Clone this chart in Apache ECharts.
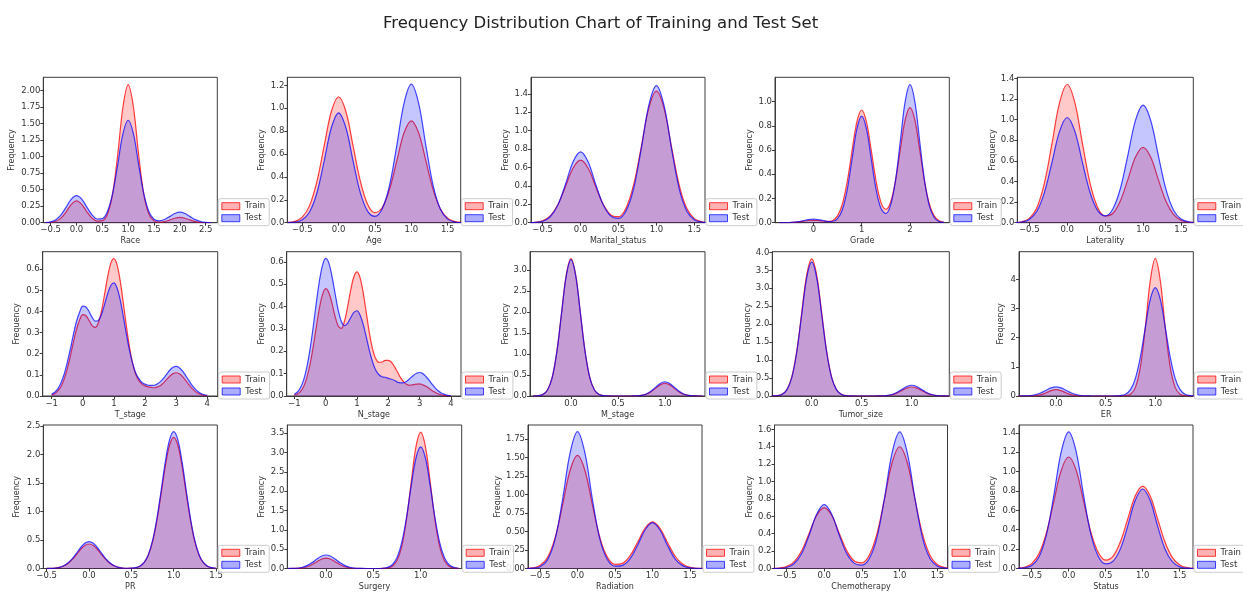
<!DOCTYPE html>
<html>
<head>
<meta charset="utf-8">
<script src="https://cdn.jsdelivr.net/npm/echarts@6/dist/echarts.min.js"></script>
<style>
  html, body { margin: 0; padding: 0; background: #fff; }
  #chart { width: 1243px; height: 592px; }
</style>
</head>
<body>
<div id="chart"></div>
<script>
// ---------------- DATA ----------------
const chartTitle = 'Frequency Distribution Chart of Training and Test Set';
const seriesNames = ['Train', 'Test'];
const featureNames = ['Race', 'Age', 'Marital_status', 'Grade', 'Laterality',
  'T_stage', 'N_stage', 'M_stage', 'Tumor_size', 'ER',
  'PR', 'Surgery', 'Radiation', 'Chemotherapy', 'Status'];

// sample x positions of the density curves
const raceX = [-0.6,-0.5,-0.4,-0.3,-0.2,-0.1,0,0.1,0.2,0.3,0.4,0.5,0.6,0.7,0.8,0.9,1,1.1,1.2,1.3,1.4,1.5,1.6,1.7,1.8,1.9,2,2.1,2.2,2.3,2.4,2.5,2.6];
const binX = [-0.7,-0.6,-0.5,-0.4,-0.3,-0.2,-0.1,0,0.1,0.2,0.3,0.4,0.5,0.6,0.7,0.8,0.9,1,1.1,1.2,1.3,1.4,1.5,1.6,1.7];
const gradeX = [-0.7,-0.6,-0.5,-0.4,-0.3,-0.2,-0.1,0,0.1,0.2,0.3,0.4,0.5,0.6,0.7,0.8,0.9,1,1.1,1.2,1.3,1.4,1.5,1.6,1.7,1.8,1.9,2,2.1,2.2,2.3,2.4,2.5,2.6,2.7];
const stageX = [-1,-0.9,-0.8,-0.7,-0.6,-0.5,-0.4,-0.3,-0.2,-0.1,0,0.1,0.2,0.3,0.4,0.5,0.6,0.7,0.8,0.9,1,1.1,1.2,1.3,1.4,1.5,1.6,1.7,1.8,1.9,2,2.1,2.2,2.3,2.4,2.5,2.6,2.7,2.8,2.9,3,3.1,3.2,3.3,3.4,3.5,3.6,3.7,3.8,3.9,4];
const fineX = [-0.4,-0.35,-0.3,-0.25,-0.2,-0.15,-0.1,-0.05,0,0.05,0.1,0.15,0.2,0.25,0.3,0.35,0.4,0.45,0.5,0.55,0.6,0.65,0.7,0.75,0.8,0.85,0.9,0.95,1,1.05,1.1,1.15,1.2,1.25,1.3,1.35,1.4];
const prX = [-0.5,-0.45,-0.4,-0.35,-0.3,-0.25,-0.2,-0.15,-0.1,-0.05,0,0.05,0.1,0.15,0.2,0.25,0.3,0.35,0.4,0.45,0.5,0.55,0.6,0.65,0.7,0.75,0.8,0.85,0.9,0.95,1,1.05,1.1,1.15,1.2,1.25,1.3,1.35,1.4,1.45,1.5];

// density values (Train / Test)
const raceTrain = [0.001,0.004,0.021,0.070,0.165,0.278,0.330,0.278,0.165,0.070,0.025,0.031,0.132,0.441,1.047,1.758,2.090,1.758,1.047,0.441,0.132,0.028,0.009,0.017,0.040,0.067,0.080,0.067,0.040,0.017,0.005,0.001,0.000];
const raceTest  = [0.003,0.013,0.045,0.118,0.236,0.357,0.410,0.357,0.236,0.120,0.056,0.061,0.172,0.446,0.891,1.350,1.550,1.350,0.891,0.446,0.170,0.053,0.028,0.048,0.092,0.139,0.160,0.139,0.092,0.046,0.017,0.005,0.001];
const ageTrain = [0.002,0.012,0.048,0.149,0.357,0.667,0.971,1.100,0.971,0.667,0.359,0.159,0.087,0.132,0.291,0.540,0.785,0.890,0.785,0.540,0.289,0.120,0.039,0.010,0.002];
const ageTest  = [0.001,0.005,0.025,0.093,0.257,0.535,0.829,0.960,0.829,0.535,0.258,0.099,0.056,0.122,0.325,0.674,1.045,1.210,1.045,0.674,0.324,0.117,0.031,0.006,0.001];
const maritalTrain = [0.001,0.005,0.021,0.074,0.196,0.391,0.592,0.680,0.592,0.391,0.197,0.084,0.065,0.161,0.413,0.822,1.246,1.430,1.246,0.822,0.412,0.156,0.044,0.010,0.001];
const maritalTest  = [0.000,0.003,0.016,0.065,0.192,0.415,0.660,0.770,0.660,0.415,0.193,0.071,0.047,0.130,0.371,0.803,1.277,1.490,1.277,0.803,0.371,0.127,0.031,0.006,0.001];
const gradeTrain = [0.000,0.000,0.001,0.003,0.007,0.013,0.018,0.020,0.018,0.014,0.011,0.019,0.056,0.152,0.336,0.591,0.830,0.930,0.830,0.592,0.340,0.168,0.111,0.171,0.347,0.604,0.848,0.950,0.848,0.603,0.343,0.155,0.056,0.016,0.004];
const gradeTest  = [0.000,0.000,0.001,0.004,0.009,0.018,0.026,0.030,0.026,0.018,0.010,0.012,0.034,0.107,0.269,0.520,0.772,0.880,0.772,0.520,0.271,0.117,0.076,0.147,0.350,0.674,1.000,1.140,1.000,0.674,0.349,0.139,0.043,0.010,0.002];
const lateralityTrain = [0.001,0.009,0.042,0.146,0.386,0.771,1.167,1.340,1.167,0.771,0.387,0.151,0.065,0.089,0.211,0.420,0.636,0.730,0.636,0.420,0.210,0.080,0.023,0.005,0.001];
const lateralityTest  = [0.001,0.007,0.032,0.111,0.294,0.587,0.888,1.020,0.888,0.587,0.295,0.119,0.067,0.131,0.329,0.656,0.993,1.140,0.993,0.656,0.328,0.124,0.035,0.008,0.001];
const tStageTrain = [0.005,0.011,0.024,0.045,0.080,0.128,0.189,0.256,0.317,0.361,0.385,0.380,0.358,0.333,0.325,0.347,0.403,0.482,0.566,0.629,0.650,0.621,0.546,0.442,0.331,0.232,0.156,0.103,0.074,0.057,0.048,0.043,0.041,0.039,0.043,0.050,0.063,0.080,0.095,0.106,0.110,0.105,0.093,0.075,0.055,0.037,0.023,0.013,0.007,0.003,0.001];
const tStageTest  = [0.009,0.018,0.035,0.063,0.103,0.158,0.223,0.293,0.355,0.398,0.425,0.421,0.400,0.372,0.354,0.358,0.386,0.434,0.485,0.523,0.535,0.511,0.456,0.377,0.293,0.216,0.154,0.109,0.082,0.064,0.056,0.051,0.050,0.051,0.058,0.069,0.085,0.104,0.123,0.136,0.140,0.134,0.119,0.098,0.075,0.053,0.035,0.021,0.012,0.006,0.003];
const nStageTrain = [0.004,0.009,0.021,0.043,0.082,0.140,0.218,0.307,0.392,0.453,0.480,0.463,0.416,0.357,0.313,0.302,0.334,0.398,0.474,0.533,0.555,0.528,0.460,0.369,0.279,0.208,0.166,0.150,0.152,0.159,0.159,0.151,0.130,0.105,0.080,0.062,0.051,0.048,0.051,0.053,0.054,0.050,0.044,0.034,0.024,0.016,0.009,0.005,0.002,0.001,0.000];
const nStageTest  = [0.008,0.018,0.038,0.073,0.129,0.207,0.306,0.414,0.513,0.584,0.615,0.595,0.536,0.459,0.384,0.333,0.315,0.325,0.351,0.374,0.381,0.361,0.319,0.261,0.201,0.151,0.115,0.095,0.086,0.084,0.079,0.075,0.069,0.061,0.059,0.060,0.067,0.080,0.092,0.102,0.105,0.100,0.087,0.071,0.052,0.035,0.022,0.012,0.007,0.003,0.001];
const mStageTrain = [0.001,0.007,0.036,0.144,0.441,1.063,1.985,2.884,3.270,2.884,1.985,1.063,0.441,0.144,0.036,0.007,0.001,0,0,0,0,0.001,0.003,0.013,0.041,0.098,0.182,0.265,0.300,0.265,0.182,0.098,0.041,0.013,0.003,0.001,0];
const mStageTest  = [0.001,0.007,0.036,0.143,0.439,1.056,1.973,2.867,3.250,2.867,1.973,1.056,0.439,0.143,0.036,0.007,0.001,0,0,0,0,0.001,0.004,0.015,0.046,0.111,0.206,0.300,0.340,0.300,0.206,0.111,0.046,0.015,0.004,0.001,0];
const tumorTrain = [0.001,0.008,0.042,0.168,0.516,1.242,2.319,3.369,3.820,3.369,2.319,1.242,0.516,0.168,0.042,0.008,0.001,0,0,0,0,0.001,0.003,0.011,0.034,0.081,0.152,0.221,0.250,0.221,0.152,0.081,0.034,0.011,0.003,0.001,0];
const tumorTest  = [0.001,0.007,0.041,0.164,0.504,1.212,2.264,3.290,3.730,3.290,2.264,1.212,0.504,0.164,0.041,0.007,0.001,0,0,0,0,0.001,0.003,0.013,0.041,0.098,0.182,0.265,0.300,0.265,0.182,0.098,0.041,0.013,0.003,0.001,0];
const erTrain = [0,0,0,0.003,0.014,0.046,0.110,0.185,0.220,0.185,0.110,0.046,0.014,0.003,0,0,0,0,0,0,0,0.001,0.009,0.061,0.297,0.996,2.360,3.970,4.720,3.970,2.360,0.996,0.297,0.061,0.009,0.001,0];
const erTest  = [0,0.001,0.005,0.018,0.051,0.112,0.197,0.277,0.310,0.277,0.197,0.112,0.051,0.018,0.005,0.001,0,0,0,0,0.003,0.015,0.063,0.219,0.606,1.339,2.362,3.322,3.720,3.322,2.362,1.339,0.606,0.219,0.063,0.015,0.003];
const prTrain = [0.001,0.003,0.007,0.019,0.043,0.087,0.155,0.242,0.333,0.403,0.430,0.403,0.333,0.242,0.155,0.087,0.043,0.019,0.007,0.003,0.005,0.013,0.039,0.101,0.232,0.467,0.828,1.295,1.783,2.157,2.300,2.157,1.783,1.295,0.828,0.467,0.232,0.101,0.039,0.013,0.004];
const prTest  = [0.001,0.003,0.008,0.021,0.047,0.095,0.169,0.265,0.364,0.441,0.470,0.441,0.364,0.265,0.169,0.095,0.047,0.021,0.008,0.004,0.005,0.014,0.041,0.106,0.242,0.487,0.864,1.351,1.860,2.251,2.400,2.251,1.860,1.351,0.864,0.487,0.242,0.106,0.041,0.014,0.004];
const surgeryTrain = [0,0.001,0.005,0.016,0.044,0.097,0.171,0.241,0.270,0.241,0.171,0.097,0.044,0.016,0.005,0.001,0,0,0,0,0.004,0.014,0.060,0.208,0.575,1.271,2.242,3.152,3.530,3.152,2.242,1.271,0.575,0.208,0.060,0.014,0.004];
const surgeryTest  = [0.001,0.003,0.011,0.032,0.075,0.147,0.238,0.318,0.350,0.318,0.238,0.147,0.075,0.032,0.011,0.003,0.001,0,0,0,0.006,0.028,0.098,0.284,0.677,1.326,2.145,2.860,3.150,2.860,2.145,1.326,0.677,0.284,0.098,0.028,0.006];
const radiationTrain = [0.001,0.008,0.040,0.148,0.410,0.852,1.322,1.530,1.322,0.852,0.411,0.151,0.056,0.069,0.170,0.351,0.544,0.630,0.544,0.351,0.169,0.061,0.016,0.003,0.001];
const radiationTest  = [0.000,0.004,0.024,0.117,0.390,0.927,1.556,1.850,1.556,0.927,0.390,0.118,0.032,0.043,0.131,0.311,0.521,0.620,0.521,0.311,0.131,0.039,0.008,0.001,0.000];
const chemoTrain = [0.001,0.005,0.022,0.076,0.202,0.403,0.610,0.700,0.610,0.403,0.203,0.086,0.065,0.158,0.404,0.805,1.219,1.400,1.219,0.805,0.403,0.153,0.043,0.010,0.001];
const chemoTest  = [0.000,0.002,0.012,0.054,0.169,0.382,0.624,0.735,0.624,0.382,0.169,0.059,0.039,0.117,0.361,0.816,1.333,1.570,1.333,0.816,0.361,0.115,0.027,0.005,0.001];
const statusTrain = [0.003,0.013,0.050,0.156,0.373,0.697,1.015,1.150,1.015,0.697,0.375,0.165,0.087,0.128,0.279,0.516,0.750,0.850,0.750,0.516,0.276,0.115,0.037,0.009,0.002];
const statusTest  = [0.001,0.006,0.030,0.120,0.351,0.760,1.208,1.410,1.208,0.760,0.351,0.123,0.047,0.076,0.205,0.442,0.703,0.820,0.703,0.442,0.204,0.070,0.017,0.003,0.000];

// tick labels
const xTicksRace = [-0.5,0,0.5,1,1.5,2,2.5];
const xTicksBin = [-0.5,0,0.5,1,1.5];
const xTicksGrade = [0,1,2];
const xTicksStage = [-1,0,1,2,3,4];
const xTicksFine = [0,0.5,1];
const yTicksRace = [0,0.25,0.5,0.75,1,1.25,1.5,1.75,2];
const yTicksAge = [0,0.2,0.4,0.6,0.8,1,1.2];
const yTicksMarital = [0,0.2,0.4,0.6,0.8,1,1.2,1.4];
const yTicksGrade = [0,0.2,0.4,0.6,0.8,1];
const yTicksLaterality = [0,0.2,0.4,0.6,0.8,1,1.2,1.4];
const yTicksStage = [0,0.1,0.2,0.3,0.4,0.5,0.6];
const yTicksM = [0,0.5,1,1.5,2,2.5,3];
const yTicksTumor = [0,0.5,1,1.5,2,2.5,3,3.5,4];
const yTicksER = [0,1,2,3,4];
const yTicksPR = [0,0.5,1,1.5,2,2.5];
const yTicksSurgery = [0,0.5,1,1.5,2,2.5,3,3.5];
const yTicksRadiation = [0,0.25,0.5,0.75,1,1.25,1.5,1.75];
const yTicksChemo = [0,0.2,0.4,0.6,0.8,1,1.2,1.4,1.6];
const yTicksStatus = [0,0.2,0.4,0.6,0.8,1,1.2,1.4];

// ---------------- LAYOUT ----------------
// box: [left, top, width, height]; xr: x range; ym: y max; gy: y-name gap
const panels = [
  {x: raceX, tr: raceTrain, te: raceTest, xt: xTicksRace, yt: yTicksRace, xd:1, yd:2, box:[43.3,77.3,174,145.4], xr:[-0.643,2.725], ym:2.2, gy:27},
  {x: binX, tr: ageTrain, te: ageTest, xt: xTicksBin, yt: yTicksAge, xd:1, yd:1, box:[287.3,77.3,173.4,145.4], xr:[-0.706,1.679], ym:1.27, gy:21},
  {x: binX, tr: maritalTrain, te: maritalTest, xt: xTicksBin, yt: yTicksMarital, xd:1, yd:1, box:[531,77.3,174,145.4], xr:[-0.654,1.641], ym:1.58, gy:21.5},
  {x: gradeX, tr: gradeTrain, te: gradeTest, xt: xTicksGrade, yt: yTicksGrade, xd:0, yd:1, box:[775,77.3,174.3,145.4], xr:[-0.793,2.813], ym:1.2, gy:21},
  {x: binX, tr: lateralityTrain, te: lateralityTest, xt: xTicksBin, yt: yTicksLaterality, xd:1, yd:1, box:[1017.3,77.3,176,145.4], xr:[-0.658,1.662], ym:1.41, gy:19.5},
  {x: stageX, tr: tStageTrain, te: tStageTest, xt: xTicksStage, yt: yTicksStage, xd:0, yd:1, box:[42.7,251.7,175,144.3], xr:[-1.289,4.334], ym:0.683, gy:21.5},
  {x: stageX, tr: nStageTrain, te: nStageTest, xt: xTicksStage, yt: yTicksStage, xd:0, yd:1, box:[286.7,251.7,174.3,144.3], xr:[-1.243,4.319], ym:0.645, gy:20.5},
  {x: fineX, tr: mStageTrain, te: mStageTest, xt: xTicksFine, yt: yTicksM, xd:1, yd:1, box:[530,251.7,175,144.3], xr:[-0.436,1.426], ym:3.437, gy:19},
  {x: fineX, tr: tumorTrain, te: tumorTest, xt: xTicksFine, yt: yTicksTumor, xd:1, yd:1, box:[772.3,251.7,177,144.3], xr:[-0.394,1.376], ym:4.019, gy:18.5},
  {x: fineX, tr: erTrain, te: erTest, xt: xTicksFine, yt: yTicksER, xd:1, yd:0, box:[1019,251.7,174.3,144.3], xr:[-0.373,1.383], ym:4.95, gy:14.5},
  {x: prX, tr: prTrain, te: prTest, xt: xTicksBin, yt: yTicksPR, xd:1, yd:1, box:[43.3,425,174,144.3], xr:[-0.54,1.515], ym:2.517, gy:22},
  {x: fineX, tr: surgeryTrain, te: surgeryTest, xt: xTicksFine, yt: yTicksSurgery, xd:1, yd:1, box:[287.3,425,174.4,144.3], xr:[-0.409,1.433], ym:3.714, gy:21},
  {x: binX, tr: radiationTrain, te: radiationTest, xt: xTicksBin, yt: yTicksRadiation, xd:1, yd:2, box:[528,425,174,144.3], xr:[-0.66,1.66], ym:1.94, gy:23},
  {x: binX, tr: chemoTrain, te: chemoTest, xt: xTicksBin, yt: yTicksChemo, xd:1, yd:1, box:[774.5,425,173,144.3], xr:[-0.658,1.633], ym:1.65, gy:21},
  {x: binX, tr: statusTrain, te: statusTest, xt: xTicksBin, yt: yTicksStatus, xd:1, yd:1, box:[1019,425,174,144.3], xr:[-0.672,1.68], ym:1.48, gy:22}
];

const FONT = 'DejaVu Sans';
const AX = '#3c3c3c';
const TXT = '#333';
const TICK_FS = 8.5;
const NAME_FS = 8;
const RED_LINE = 'rgba(255,0,0,0.75)', RED_FILL = 'rgba(255,0,0,0.3)';
const BLUE_LINE = 'rgba(0,0,255,0.72)', BLUE_FILL = 'rgba(0,0,255,0.32)';

function fmt(dec) {
  return function (v) {
    const s = Math.abs(v).toFixed(dec);
    return (v < -1e-9 ? '\u2212' : '') + s;
  };
}
function zip(xs, ys) { return xs.map((x, i) => [x, ys[i]]); }

const grids = [], xAxes = [], yAxes = [], series = [], legends = [];
panels.forEach((p, i) => {
  const [L, T, W, H] = p.box;
  grids.push({left: L, top: T, width: W, height: H, show: true, borderColor: AX, borderWidth: 1, backgroundColor: 'transparent', containLabel: false});
  xAxes.push({
    gridIndex: i, type: 'value', min: p.xr[0], max: p.xr[1],
    name: featureNames[i], nameLocation: 'middle', nameGap: 14.5,
    nameTextStyle: {fontFamily: FONT, fontSize: NAME_FS, color: TXT},
    axisLine: {show: true, onZero: false, lineStyle: {color: AX, width: 1}},
    axisTick: {show: true, customValues: p.xt, length: 3, lineStyle: {color: AX}},
    axisLabel: {customValues: p.xt, formatter: fmt(p.xd), fontFamily: FONT, fontSize: TICK_FS, color: TXT, margin: 3},
    splitLine: {show: false}
  });
  yAxes.push({
    gridIndex: i, type: 'value', min: 0, max: p.ym,
    name: 'Frequency', nameLocation: 'middle', nameGap: p.gy,
    nameTextStyle: {fontFamily: FONT, fontSize: NAME_FS, color: TXT},
    axisLine: {show: true, onZero: false, lineStyle: {color: AX, width: 1}},
    axisTick: {show: true, customValues: p.yt, length: 3, lineStyle: {color: AX}},
    axisLabel: {customValues: p.yt, formatter: fmt(p.yd), fontFamily: FONT, fontSize: TICK_FS, color: TXT, margin: 3},
    splitLine: {show: false}
  });
  series.push({
    name: seriesNames[0], type: 'line', xAxisIndex: i, yAxisIndex: i, data: zip(p.x, p.tr),
    smooth: 0.35, showSymbol: false, silent: true, z: 2,
    lineStyle: {color: RED_LINE, width: 1.2}, itemStyle: {color: RED_LINE},
    areaStyle: {color: RED_FILL, origin: 'start'}
  });
  series.push({
    name: seriesNames[1], type: 'line', xAxisIndex: i, yAxisIndex: i, data: zip(p.x, p.te),
    smooth: 0.35, showSymbol: false, silent: true, z: 3,
    lineStyle: {color: BLUE_LINE, width: 1.2}, itemStyle: {color: BLUE_LINE},
    areaStyle: {color: BLUE_FILL, origin: 'start'}
  });
  legends.push({
    left: L + W + 1, top: T + H - 24, orient: 'vertical',
    itemWidth: 18, itemHeight: 7, itemGap: 3,
    padding: [3, 4, 3, 3], backgroundColor: 'rgba(255,255,255,0.85)',
    borderColor: '#cccccc', borderWidth: 1, borderRadius: 2,
    selectedMode: false, z: 10,
    textStyle: {fontFamily: FONT, fontSize: 8.5, color: TXT},
    data: [
      {name: seriesNames[0], icon: 'rect', itemStyle: {color: RED_FILL, borderColor: RED_LINE, borderWidth: 1}},
      {name: seriesNames[1], icon: 'rect', itemStyle: {color: BLUE_FILL, borderColor: BLUE_LINE, borderWidth: 1}}
    ]
  });
});

const chart = echarts.init(document.getElementById('chart'), null, {renderer: 'canvas'});
chart.setOption({
  animation: false,
  backgroundColor: '#ffffff',
  title: {text: chartTitle, left: 378, top: 10, textStyle: {fontFamily: FONT, fontSize: 16.5, fontWeight: 'normal', color: '#222'}},
  grid: grids, xAxis: xAxes, yAxis: yAxes, series: series, legend: legends
});
</script>
</body>
</html>
